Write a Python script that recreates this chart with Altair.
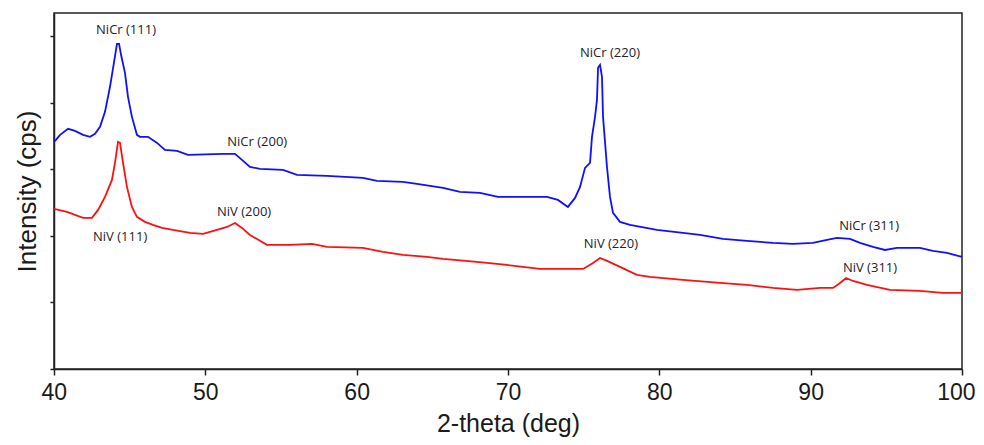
import altair as alt
import pandas as pd

# NiCr (blue) trace: 2-theta (deg) and intensity (arbitrary units, tick = 1)
nicr_theta = [40.0, 40.13, 40.40, 40.93, 41.39, 41.92, 42.38, 42.71, 43.04, 43.37, 43.70, 43.96,
              44.16, 44.30, 44.43, 44.69, 44.89, 45.15, 45.48, 45.68, 46.21, 46.81, 47.33, 48.13,
              48.85, 51.17, 51.96, 52.42, 52.95, 53.61, 55.13, 56.06, 58.04, 60.42, 61.34, 63.06,
              63.99, 65.71, 66.83, 68.15, 69.34, 72.58, 73.30, 73.96, 74.43, 74.76, 75.09, 75.42,
              75.55, 75.75, 75.88, 75.95, 76.08, 76.21, 76.28, 76.54, 76.74, 76.94, 77.40, 78.06,
              79.84, 81.56, 82.69, 84.21, 85.79, 87.51, 88.83, 90.15, 91.08, 91.74, 92.60, 93.26,
              94.12, 94.91, 95.70, 97.22, 98.08, 99.01, 100.0]
nicr_int = [3.414, 3.444, 3.519, 3.609, 3.579, 3.519, 3.489, 3.534, 3.639, 3.865, 4.241, 4.602,
            4.887, 4.887, 4.722, 4.451, 4.090, 3.789, 3.519, 3.489, 3.489, 3.398, 3.293, 3.278,
            3.218, 3.233, 3.233, 3.143, 3.038, 3.008, 2.992, 2.917, 2.902, 2.872, 2.827, 2.812,
            2.782, 2.722, 2.662, 2.647, 2.586, 2.586, 2.541, 2.436, 2.571, 2.737, 3.023, 3.098,
            3.489, 3.789, 4.045, 4.526, 4.571, 4.391, 3.789, 3.038, 2.586, 2.346, 2.211, 2.165,
            2.090, 2.045, 2.015, 1.955, 1.925, 1.895, 1.880, 1.895, 1.940, 1.970, 1.955, 1.895,
            1.835, 1.789, 1.820, 1.820, 1.774, 1.744, 1.684]

# NiV (red) trace
niv_theta = [40.0, 40.86, 41.39, 41.92, 42.51, 42.91, 43.37, 43.83, 44.03, 44.23, 44.36, 44.56,
             44.82, 45.15, 45.48, 46.01, 46.54, 47.14, 47.86, 48.99, 49.85, 50.77, 51.43, 51.96,
             52.42, 52.95, 54.07, 55.59, 57.05, 58.04, 60.42, 61.74, 63.06, 64.65, 65.71, 67.95,
             69.93, 72.11, 73.96, 74.96, 75.62, 76.08, 76.54, 77.40, 78.52, 79.38, 81.56, 84.01,
             85.79, 87.51, 89.10, 90.62, 91.48, 91.94, 92.34, 92.80, 93.72, 95.24, 97.22, 98.74,
             100.0]
niv_int = [2.406, 2.361, 2.316, 2.271, 2.271, 2.391, 2.586, 2.842, 3.098, 3.414, 3.398, 3.098,
           2.737, 2.436, 2.286, 2.211, 2.165, 2.120, 2.090, 2.045, 2.030, 2.090, 2.135, 2.195,
           2.120, 2.015, 1.865, 1.865, 1.880, 1.835, 1.820, 1.759, 1.714, 1.684, 1.654, 1.609,
           1.564, 1.504, 1.504, 1.504, 1.594, 1.669, 1.624, 1.534, 1.414, 1.383, 1.338, 1.293,
           1.263, 1.218, 1.188, 1.218, 1.218, 1.293, 1.368, 1.323, 1.263, 1.188, 1.173, 1.143,
           1.143]

# Peak annotations
ann_text = ["NiCr (111)", "NiV (111)", "NiCr (200)", "NiV (200)",
            "NiCr (220)", "NiV (220)", "NiCr (311)", "NiV (311)"]
ann_theta = [44.76, 44.37, 53.43, 52.56, 76.74, 76.80, 93.86, 93.92]
ann_int = [5.098, 1.985, 3.414, 2.361, 4.752, 1.880, 2.150, 1.519]

x_ticks = [40, 50, 60, 70, 80, 90, 100]
y_ticks = [0, 1, 2, 3, 4, 5]

lines = pd.concat([
    pd.DataFrame({"theta": nicr_theta, "intensity": nicr_int, "series": "NiCr", "o": range(len(nicr_theta))}),
    pd.DataFrame({"theta": niv_theta, "intensity": niv_int, "series": "NiV", "o": range(len(niv_theta))}),
])
ann = pd.DataFrame({"theta": ann_theta, "intensity": ann_int, "label": ann_text})

xs = alt.Scale(domain=[40, 100], nice=False, zero=False)
ys = alt.Scale(domain=[0, 5.35], nice=False, zero=False)

line = alt.Chart(lines).mark_line(strokeWidth=1.8, interpolate="linear").encode(
    x=alt.X("theta:Q", scale=xs, axis=alt.Axis(
        title="2-theta (deg)", values=x_ticks, format="d", grid=False,
        labelFlush=True, labelFlushOffset=13,
        tickSize=6, labelPadding=17, labelBaseline="middle", labelFontSize=23,
        titleFontSize=25, titleBaseline="alphabetic", titleY=62)),
    y=alt.Y("intensity:Q", scale=ys, axis=alt.Axis(
        title="Intensity (cps)", values=y_ticks, labels=False, grid=False,
        tickSize=4, titleFontSize=26, titleBaseline="middle", titleX=-27, titleY=178,
        titleAngle=-90, titleAlign="center")),
    color=alt.Color("series:N", scale=alt.Scale(domain=["NiCr", "NiV"], range=["#1010ff", "#ff1010"]), legend=None),
    order="o:Q",
)

text = alt.Chart(ann).mark_text(font="Open Sans", fontSize=13, color="#22222a",
                                align="center", baseline="middle").encode(
    x=alt.X("theta:Q", scale=xs),
    y=alt.Y("intensity:Q", scale=ys),
    text="label:N",
)

chart = alt.layer(line, text).properties(
    width=908, height=356,
    autosize=alt.AutoSizeParams(type="none"),
    padding={"left": 46, "top": 5, "right": 14, "bottom": 68},
).configure_view(stroke="#222222", strokeWidth=1.5).configure_axis(
    domainColor="#222222", domainWidth=1.5, tickColor="#222222", tickWidth=1.5,
    labelFont="Liberation Sans", titleFont="Liberation Sans",
    labelColor="#1a1a1a", titleColor="#1a1a1a", titleFontWeight="normal",
)

chart.save("out.html", embed_options={"renderer": "svg", "actions": False})
